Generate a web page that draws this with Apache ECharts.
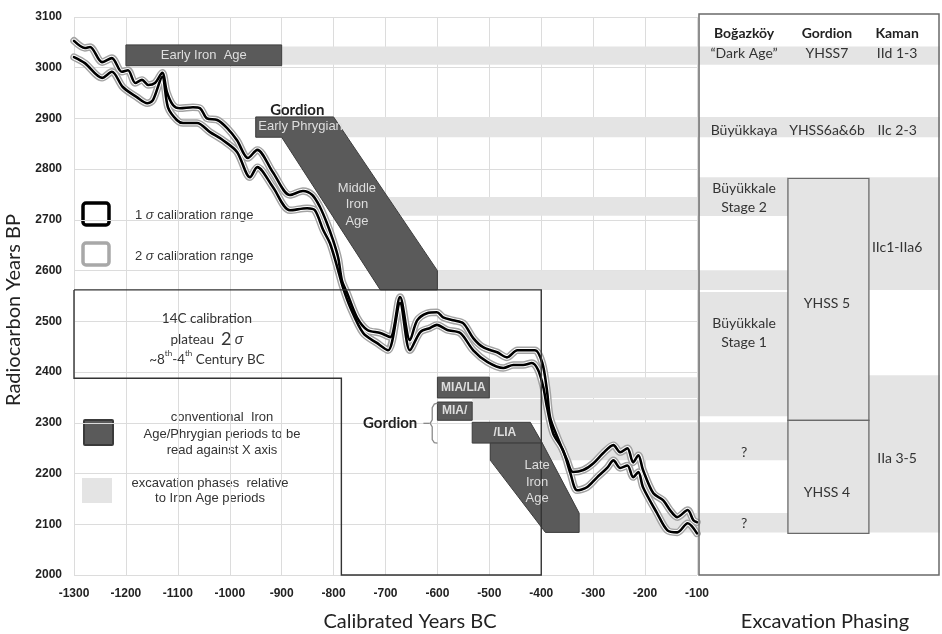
<!DOCTYPE html>
<html><head><meta charset="utf-8">
<script src="https://cdn.jsdelivr.net/npm/echarts/dist/echarts.min.js"></script>
<style>html,body{margin:0;padding:0;background:#fff}#c{width:942px;height:634px}</style>
</head><body><div id="c"></div>
<script>
// ---------- data ----------
const upperYears = [-1300,-1279,-1269,-1246,-1227,-1208,-1196,-1182,-1169,-1157,-1144,-1130,-1121,-1109,-1096,-1071,-1057,-1044,-1024,-1005,-986,-965,-947,-917,-884,-859,-841,-826,-813,-801,-791,-784,-774,-755,-735,-710,-691,-672,-653,-639,-620,-601,-589,-570,-550,-531,-512,-485,-466,-446,-427,-412,-398,-389,-383,-369,-350,-339,-319,-300,-281,-261,-248,-234,-223,-213,-204,-184,-165,-152,-138,-118,-107,-100];
const upperBP = [3053,3039,3041,3011,3019,2992,2995,2970,2976,2966,2970,2990,2952,2926,2920,2922,2920,2900,2897,2881,2857,2822,2838,2794,2749,2757,2749,2725,2694,2660,2625,2581,2556,2508,2483,2477,2469,2548,2463,2502,2516,2518,2508,2502,2496,2467,2449,2439,2429,2443,2443,2443,2418,2364,2311,2272,2226,2203,2207,2220,2240,2256,2242,2250,2222,2236,2207,2161,2147,2128,2114,2128,2108,2104];
const lowerYears = [-1300,-1279,-1246,-1227,-1206,-1179,-1159,-1148,-1130,-1119,-1102,-1090,-1063,-1038,-1013,-986,-961,-947,-917,-884,-851,-836,-820,-807,-793,-782,-768,-743,-716,-695,-672,-653,-633,-614,-601,-581,-556,-531,-504,-473,-454,-435,-418,-406,-396,-389,-377,-358,-344,-331,-312,-292,-273,-261,-248,-234,-223,-213,-204,-177,-157,-138,-118,-100];
const lowerBP = [3021,3009,2980,2992,2962,2942,2930,2936,2982,2922,2897,2891,2891,2873,2857,2834,2784,2804,2765,2719,2723,2719,2680,2654,2607,2567,2528,2477,2457,2443,2536,2443,2479,2487,2493,2483,2477,2443,2420,2408,2414,2414,2418,2404,2370,2331,2279,2246,2201,2167,2173,2193,2211,2226,2211,2216,2193,2203,2173,2122,2088,2084,2102,2082];

// excavation phase bands in the plot (start year -> right edge)
const bandStart = [-900,-800,-800,-600,-500,-533,-400,-330];
const bandLow   = [3006,2863,2708,2562,2349,2305,2226,2084];
const bandHigh  = [3042,2903,2745,2601,2390,2347,2301,2122];

// conventional Iron Age / Phrygian periods (polygons in [year, BP])
const periodShapes = [
  [[-1200,3004],[-900,3004],[-900,3045],[-1200,3045]],
  [[-950,2903],[-800,2903],[-600,2600],[-600,2562],[-710,2562],[-900,2863],[-950,2863]],
  [[-600,2349],[-500,2349],[-500,2390],[-600,2390]],
  [[-600,2305],[-533,2305],[-533,2341],[-600,2341]],
  [[-533,2260],[-398,2260],[-421,2301],[-533,2301]],
  [[-498,2260],[-398,2260],[-327,2122],[-327,2084],[-392,2084],[-498,2226]]
];
const periodLabelText = ['Early Iron  Age','Early Phrygian','Middle\nIron\nAge','MIA/LIA','MIA/','/LIA','Late\nIron\nAge'];
const periodLabelX = [-1050,-945,-755,-550,-567,-470,-408];
const periodLabelY = [3025,2885,2730,2370,2323,2280,2183];
const periodLabelBold = [0,0,0,1,1,1,0];
const periodLabelAlign = ['center','left','center','center','center','center','center'];

const plateauOutline = [[-1300,2562],[-400,2562],[-400,2000],[-785,2000],[-785,2388],[-1300,2388],[-1300,2562]];
const gordionBrace = [[-600,2339],[-606,2337],[-610,2330],[-610,2306],[-614,2299],[-610,2292],[-610,2267],[-606,2261],[-600,2260]];
const gordionDash = [[-627,2299],[-615,2299]];
const noteText = ['Gordion','Gordion'];
const noteX = [-870,-691];
const noteY = [2917,2299];

// excavation phasing table (x in % of table width, y in BP)
const cellX0  = [0,0,0,0,0,0,0,70.5,70.5,36.9,36.9];
const cellX1  = [100,100,36.9,36.9,36.9,36.9,36.9,100,100,70.5,70.5];
const cellLow = [3006,2863,2708,2562,2313,2226,2084,2562,2084,2305,2082];
const cellHigh= [3042,2903,2784,2601,2558,2301,2122,2784,2394,2782,2305];
const cellBox = [0,0,0,0,0,0,0,0,0,1,1];
const tableText = ['Boğazköy','Gordion','Kaman','“Dark Age”','YHSS7','IId 1-3','Büyükkaya','YHSS6a&6b','IIc 2-3','Büyükkale\nStage 2','IIc1-IIa6','YHSS 5','Büyükkale\nStage 1','?','?','YHSS 4','IIa 3-5'];
const tableTextX = [18.7,53.1,82.2,18.7,53.1,82.2,18.7,53.1,82.2,18.7,82.2,53.1,18.7,18.7,18.7,53.1,82.2];
const tableTextY = [3068,3068,3068,3029,3029,3029,2877,2877,2877,2744,2646,2536,2477,2242,2102,2163,2230];
const tableTextBold = [1,1,1,0,0,0,0,0,0,0,0,0,0,0,0,0,0];

// ---------- chart ----------
const ARIAL = '"Liberation Sans", Arial, sans-serif';
const CAL = 'Lato, "Open Sans", sans-serif';
const chart = echarts.init(document.getElementById('c'), null, {renderer:'canvas'});

function txt(text, x, y, font, fill, align, lh, rich){
  return {type:'text', x:x, y:y, style:{text:text, font:font, fill:fill, align:align||'center', textAlign:align||'center',
    verticalAlign:'middle', textVerticalAlign:'middle', lineHeight:lh||16, rich:rich}};
}
function curve(xs, ys, color, width, z){
  return {type:'line', xAxisIndex:0, yAxisIndex:0, data: xs.map((x,i)=>[x, ys[i]]), showSymbol:false, symbol:'none',
    smooth:0.3, lineStyle:{color:color, width:width, cap:'round', join:'round'}, z:z, silent:true, animation:false};
}
const plain = v => String(v);

const option = {
  animation:false,
  grid:[
    {left:74, top:17, width:623, height:558},
    {left:699, top:14, width:241, height:561}
  ],
  xAxis:[
    {type:'value', gridIndex:0, min:-1300, max:-100, interval:100,
     axisLine:{show:false}, axisTick:{show:false},
     axisLabel:{margin:13, color:'#222', fontWeight:'bold', fontSize:12, fontFamily:ARIAL, showMinLabel:true, showMaxLabel:true, formatter:plain},
     splitLine:{show:true, lineStyle:{color:'#dcdcdc', width:1}}},
    {type:'value', gridIndex:1, min:0, max:100, show:false}
  ],
  yAxis:[
    {type:'value', gridIndex:0, min:2000, max:3100, interval:100,
     axisLine:{show:false}, axisTick:{show:false},
     axisLabel:{margin:12, color:'#222', fontWeight:'bold', fontSize:12, fontFamily:ARIAL, formatter:plain},
     splitLine:{show:true, lineStyle:{color:'#dcdcdc', width:1}}},
    {type:'value', gridIndex:1, min:2000, max:3106, show:false}
  ],
  series:[
    // bands in plot
    {type:'custom', xAxisIndex:0, yAxisIndex:0, z:1, silent:true,
     data: bandStart.map((s,i)=>[s, -100, bandLow[i], bandHigh[i]]),
     renderItem:(p, api)=>{
       const a = api.coord([api.value(0), api.value(3)]);
       const b = api.coord([api.value(1), api.value(2)]);
       return {type:'rect', shape:{x:a[0], y:a[1], width:b[0]-a[0], height:b[1]-a[1]}, style:{fill:'#e4e4e4'}};
     }},
    // calibration curves
    curve(upperYears, upperBP, '#a3a3a3', 7.5, 2),
    curve(lowerYears, lowerBP, '#a3a3a3', 7.5, 2),
    curve(upperYears, upperBP, '#ffffff', 4.6, 3),
    curve(lowerYears, lowerBP, '#ffffff', 4.6, 3),
    curve(upperYears, upperBP, '#000000', 2.6, 4),
    curve(lowerYears, lowerBP, '#000000', 2.6, 4),
    // period polygons
    {type:'custom', xAxisIndex:0, yAxisIndex:0, z:5, silent:true,
     data: periodShapes.map((s,i)=>[s[0][0], s[0][1], i]),
     renderItem:(p, api)=>{
       const pts = periodShapes[p.dataIndex].map(q=>api.coord(q));
       return {type:'polygon', shape:{points:pts}, style:{fill:'#5a5a5a', stroke:'#3d3d3d', lineWidth:1}};
     }},
    // plateau outline, brace
    {type:'custom', xAxisIndex:0, yAxisIndex:0, z:6, silent:true,
     data:[[plateauOutline[0][0], plateauOutline[0][1], 0],[gordionBrace[0][0], gordionBrace[0][1], 1],[gordionDash[0][0], gordionDash[0][1], 2]],
     renderItem:(p, api)=>{
       const src = [plateauOutline, gordionBrace, gordionDash][p.dataIndex];
       const pts = src.map(q=>api.coord(q));
       const st = p.dataIndex===0 ? {stroke:'#333', lineWidth:1.4, fill:null} : {stroke:'#8a8a8a', lineWidth:1.3, fill:null};
       return {type:'polyline', shape:{points:pts}, style:st};
     }},
    // period labels
    {type:'custom', xAxisIndex:0, yAxisIndex:0, z:7, silent:true,
     data: periodLabelX.map((x,i)=>[x, periodLabelY[i], i]),
     renderItem:(p, api)=>{
       const i = p.dataIndex, c = api.coord([api.value(0), api.value(1)]);
       const font = periodLabelBold[i] ? ('bold 12px ' + ARIAL) : ('13px ' + ARIAL);
       return txt(periodLabelText[i], c[0], c[1], font, '#dedede', periodLabelAlign[i], 16.3);
     }},
    // notes: Gordion + plateau text
    {type:'custom', xAxisIndex:0, yAxisIndex:0, z:7, silent:true,
     data: noteX.map((x,i)=>[x, noteY[i], i]).concat([[-1044, 2464, 2]]),
     renderItem:(p, api)=>{
       const i = p.dataIndex, c = api.coord([api.value(0), api.value(1)]);
       if (i < 2) return txt(noteText[i], c[0], c[1], 'bold 15px ' + CAL, '#222', 'center');
       return txt('14C calibration\nplateau  {big|2} {it|σ}\n~8{sup|th}-4{sup|th} Century BC', c[0], c[1], '13.5px ' + CAL, '#333', 'center', 20.5,
         {big:{font:'18px ' + CAL, fill:'#333', lineHeight:20.5}, it:{font:'italic 14px ' + ARIAL, fill:'#333', lineHeight:20.5},
          sup:{font:'8px ' + CAL, fill:'#333', verticalAlign:'top', lineHeight:14}});
     }},
    // table cells
    {type:'custom', xAxisIndex:1, yAxisIndex:1, z:2, silent:true,
     data: cellX0.map((x,i)=>[x, cellX1[i], cellLow[i], cellHigh[i], cellBox[i]]),
     renderItem:(p, api)=>{
       const a = api.coord([api.value(0), api.value(3)]);
       const b = api.coord([api.value(1), api.value(2)]);
       const boxed = api.value(4) === 1;
       return {type:'rect', shape:{x:a[0], y:a[1], width:b[0]-a[0], height:b[1]-a[1]},
         style:{fill:'#e4e4e4', stroke: boxed ? '#6a6a6a' : null, lineWidth: boxed ? 1.3 : 0}};
     }},
    // table border
    {type:'custom', xAxisIndex:1, yAxisIndex:1, z:8, silent:true,
     data:[[0,100,2000,3106]],
     renderItem:(p, api)=>{
       const a = api.coord([api.value(0), api.value(3)]);
       const b = api.coord([api.value(1), api.value(2)]);
       return {type:'rect', shape:{x:a[0], y:a[1], width:b[0]-a[0]-1, height:b[1]-a[1]}, style:{fill:null, stroke:'#6a6a6a', lineWidth:1.5}};
     }},
    // table text
    {type:'custom', xAxisIndex:1, yAxisIndex:1, z:9, silent:true,
     data: tableTextX.map((x,i)=>[x, tableTextY[i], i]),
     renderItem:(p, api)=>{
       const i = p.dataIndex, c = api.coord([api.value(0), api.value(1)]);
       const font = tableTextBold[i] ? ('bold 14px ' + CAL) : ('14px ' + CAL);
       return txt(tableText[i], c[0], c[1], font, tableTextBold[i] ? '#222' : '#333', 'center', 19);
     }}
  ],
  graphic:[
    {type:'rect', shape:{x:83, y:203, width:26, height:22, r:3}, style:{fill:'#fff', stroke:'#000', lineWidth:3.5}},
    {type:'rect', shape:{x:83, y:243, width:26, height:22, r:3}, style:{fill:'#fff', stroke:'#a8a8a8', lineWidth:3.5}},
    txt('1 {i|σ} calibration range', 135, 215, '13px ' + ARIAL, '#333', 'left', 16, {i:{font:'italic 13px ' + ARIAL, fill:'#333'}}),
    txt('2 {i|σ} calibration range', 135, 256, '13px ' + ARIAL, '#333', 'left', 16, {i:{font:'italic 13px ' + ARIAL, fill:'#333'}}),
    {type:'rect', shape:{x:84, y:420, width:29, height:25, r:1}, style:{fill:'#5a5a5a', stroke:'#3a3a3a', lineWidth:2}},
    {type:'rect', shape:{x:82, y:478, width:30, height:25}, style:{fill:'#e4e4e4'}},
    txt('conventional  Iron\nAge/Phrygian periods to be\nread against X axis', 222, 434, '13px ' + ARIAL, '#333', 'center', 16.5),
    txt('excavation phases  relative\nto Iron Age periods', 210, 491, '13px ' + ARIAL, '#333', 'center', 15.7),
    txt('Calibrated Years BC', 410, 622, '20px ' + CAL, '#222', 'center'),
    txt('Excavation Phasing', 825, 622, '20px ' + CAL, '#222', 'center'),
    Object.assign(txt('Radiocarbon Years BP', 14, 310, '20px ' + CAL, '#222', 'center'), {rotation:Math.PI/2})
  ]
};
chart.setOption(option);
</script></body></html>
